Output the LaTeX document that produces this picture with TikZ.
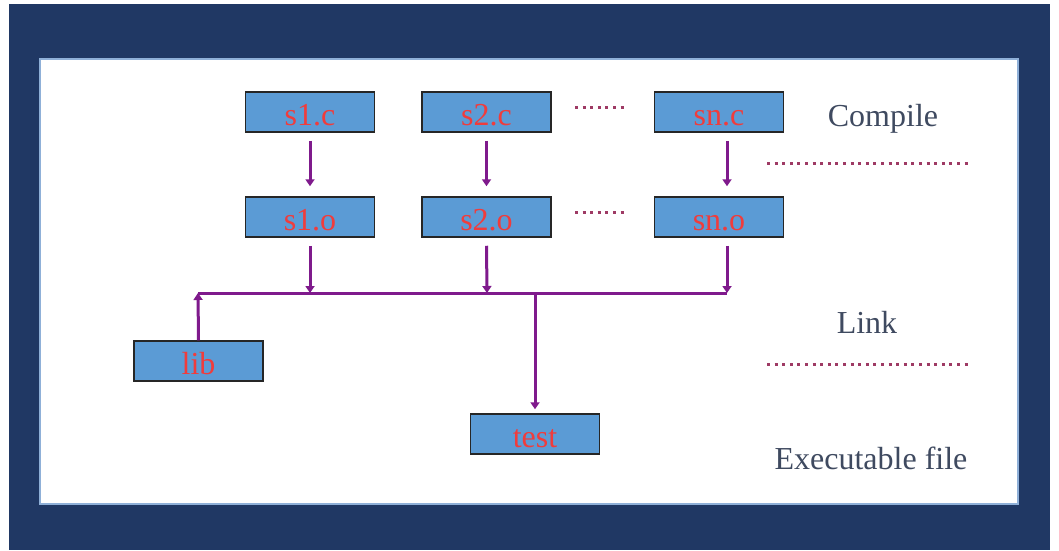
\documentclass[tikz,border=0pt]{standalone}
\usepackage{fontspec}
\setmainfont{Liberation Serif}
\usetikzlibrary{arrows.meta}
\definecolor{bgdark}{HTML}{203864}
\definecolor{boxfill}{HTML}{5B9BD5}
\definecolor{boxtext}{HTML}{F03C3C}
\definecolor{conn}{HTML}{7F1A8C}
\definecolor{dotc}{HTML}{9E3A64}
\definecolor{labc}{HTML}{3F4A60}
\definecolor{frame}{HTML}{8FB0D8}
\tikzset{
  filebox/.style={draw=black!85, line width=1.5pt, fill=boxfill, minimum width=129pt, minimum height=40pt, inner sep=0pt, text height=26pt, text depth=0pt, text=boxtext, font=\fontsize{32}{34}\selectfont},
  conarrow/.style={draw=conn, line width=3pt, -{Triangle[width=9pt,length=7pt]}},
  conline/.style={draw=conn, line width=3pt},
  dotline/.style={draw=dotc, line width=3pt, dash pattern=on 3pt off 4.6pt},
  steplabel/.style={text=labc, font=\fontsize{32}{34}\selectfont, inner sep=0pt}
}
\begin{document}
\begin{tikzpicture}[x=1pt,y=-1pt]
\useasboundingbox (0,0) rectangle (1059,550);
\fill[bgdark] (9,4) rectangle (1050,550);
\fill[white] (40,59) rectangle (1018,504);
\draw[frame, line width=1.2pt] (40,59) rectangle (1018,504);
% boxes
\node[filebox] (s1c) at (310,112) {s1.c};
\node[filebox] (s2c) at (486.5,112) {s2.c};
\node[filebox] (snc) at (719,112) {sn.c};
\node[filebox] (s1o) at (310,217) {s1.o};
\node[filebox] (s2o) at (486.5,217) {s2.o};
\node[filebox] (sno) at (719,217) {sn.o};
\node[filebox] (lib) at (198.5,361) {lib};
\node[filebox] (test) at (535,434) {test};
% bus coordinates
\coordinate (busL) at (198,293);
\coordinate (busR) at (727,293);
\coordinate (bus1) at (310,293);
\coordinate (bus2) at (487,293);
\coordinate (busT) at (535,293);
% compile arrows
\draw[conarrow] ([yshift=-8pt]s1c.south) -- ([yshift=10pt]s1o.north);
\draw[conarrow] ([yshift=-8pt]s2c.south) -- ([yshift=10pt]s2o.north);
\draw[conarrow] ([xshift=8pt,yshift=-8pt]snc.south) -- ([xshift=8pt,yshift=10pt]sno.north);
% link arrows
\draw[conarrow] ([yshift=-8pt]s1o.south) -- (bus1);
\draw[conarrow] ([yshift=-8pt]s2o.south) -- (bus2);
\draw[conarrow] ([xshift=8pt,yshift=-8pt]sno.south) -- (busR);
\draw[conline] (busL) -- (busR);
\draw[conarrow] (lib.north) -- (busL);
\draw[conarrow] (busT) -- ([yshift=4pt]test.north);
% dotted lines
\draw[dotline] (575,107) -- (628,107);
\draw[dotline] (575,212) -- (628,212);
\draw[dotline] (767,163) -- (970,163);
\draw[dotline] (767,364) -- (970,364);
% labels
\node[steplabel] (compile) at (883,119) {Compile};
\node[steplabel] (link) at (867,322) {Link};
\node[steplabel] (exe) at (871,458) {Executable file};
\end{tikzpicture}
\end{document}
